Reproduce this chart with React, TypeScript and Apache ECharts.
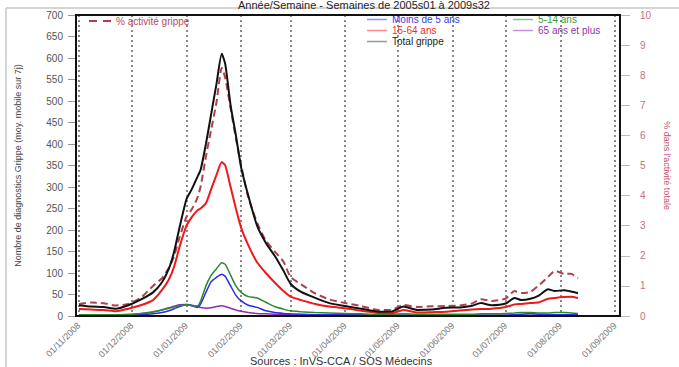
import React, { useEffect, useRef } from "react";
import * as echarts from "echarts";

const dates = [
  "2008-11-01", "2008-11-08", "2008-11-15", "2008-11-22", "2008-11-29",
  "2008-12-06", "2008-12-13", "2008-12-18", "2008-12-22", "2008-12-25",
  "2008-12-28", "2009-01-01", "2009-01-04", "2009-01-07", "2009-01-09",
  "2009-01-12", "2009-01-15", "2009-01-18", "2009-01-21", "2009-01-23",
  "2009-01-26", "2009-01-29", "2009-02-01", "2009-02-05", "2009-02-10",
  "2009-02-15", "2009-02-20", "2009-02-25", "2009-03-01", "2009-03-07",
  "2009-03-15", "2009-03-23", "2009-04-01", "2009-04-10", "2009-04-20",
  "2009-04-27", "2009-05-04", "2009-05-12", "2009-05-20", "2009-05-28",
  "2009-06-05", "2009-06-12", "2009-06-17", "2009-06-23", "2009-07-01",
  "2009-07-06", "2009-07-10", "2009-07-15", "2009-07-20", "2009-07-25",
  "2009-07-29", "2009-08-03", "2009-08-07", "2009-08-11",
];

const totalGrippe = [
  25, 22, 21, 17, 25, 38, 55, 78, 110, 150,
  205, 272, 295, 322, 340, 400, 470, 540, 610, 585,
  490, 420, 345, 280, 210, 170, 140, 105, 75, 56,
  42, 30, 23, 17, 10, 10, 22, 14, 15, 19,
  20, 24, 30, 25, 29, 42, 37, 40, 48, 62,
  58, 60, 57, 53,
];

const ans15_64 = [
  16, 15, 14, 11, 17, 25, 37, 60, 85, 115,
  160, 210, 230, 245, 250, 262, 295, 328, 358, 350,
  300, 250, 205, 165, 125, 100, 78, 58, 45, 37,
  28, 22, 18, 12, 7, 6, 14, 8, 9, 10,
  13, 15, 16, 17, 21, 27, 28, 30, 32, 40,
  42, 44, 45, 42,
];

const ans5_14 = [
  3, 3, 3, 3, 4, 6, 10, 14, 18, 21,
  24, 26, 24, 23, 35, 70, 95, 110, 124, 120,
  95, 70, 55, 45, 42, 32, 22, 16, 12, 10,
  8, 7, 6, 5, 4, 4, 5, 4, 4, 4,
  4, 4, 5, 5, 6, 7, 8, 8, 7, 7,
  8, 8, 7, 6,
];

const moins5 = [
  1, 1, 2, 2, 2, 3, 5, 8, 12, 17,
  22, 27, 24, 20, 28, 55, 80, 90, 97, 92,
  70, 48, 35, 25, 20, 12, 8, 6, 5, 4,
  3, 3, 3, 3, 2, 2, 2, 2, 2, 2,
  2, 2, 2, 2, 2, 3, 4, 6, 4, 3,
  3, 3, 3, 3,
];

const plus65 = [
  2, 2, 2, 2, 3, 5, 9, 14, 19, 23,
  26, 27, 25, 22, 20, 18, 19, 22, 24, 22,
  18, 14, 11, 8, 6, 5, 4, 3, 3, 2,
  2, 2, 2, 2, 2, 2, 2, 2, 2, 2,
  2, 2, 2, 2, 2, 2, 2, 2, 2, 2,
  2, 2, 2, 2,
];

const pctActivite = [
  0.4, 0.45, 0.42, 0.35, 0.4, 0.6, 1.0, 1.25, 1.6, 2.0,
  2.6, 3.3, 3.55, 3.9, 4.3, 5.3, 6.2, 7.1, 8.25, 7.9,
  6.9, 5.9, 5.0, 3.95, 3.1, 2.5, 2.15, 1.8, 1.3, 1.05,
  0.75, 0.55, 0.43, 0.33, 0.2, 0.2, 0.37, 0.3, 0.32, 0.33,
  0.35, 0.42, 0.56, 0.5, 0.58, 0.83, 0.76, 0.8, 1.03, 1.3,
  1.5, 1.4, 1.4, 1.26,
];

const leftTicks = { min: 0, max: 700, interval: 50 };
const rightTicks = { min: 0, max: 10, interval: 1 };

const FONT = "'Liberation Sans', Arial, sans-serif";
const DASH_ICON = "path://M0,0 H8 V2 H0 Z M14,0 H22 V2 H14 Z";

function toTime(s: string): number {
  const [y, m, d] = s.split("-").map(Number);
  return new Date(y, m - 1, d).getTime();
}

function pad(n: number) {
  return n < 10 ? "0" + n : "" + n;
}

export default function App() {
  const ref = useRef<HTMLDivElement>(null);

  useEffect(() => {
    if (!ref.current) return;
    const chart = echarts.init(ref.current, undefined, { renderer: "svg" });
    const t = dates.map(toTime);
    const mk = (vals: number[]) => t.map((x, i) => [x, vals[i]]);

    const lineSeries = (
      name: string,
      vals: number[],
      color: string,
      width: number,
      yAxisIndex = 0,
      type: any = "solid"
    ) => ({
      name,
      type: "line",
      yAxisIndex,
      data: mk(vals),
      showSymbol: false,
      symbol: "none",
      smooth: 0.2,
      lineStyle: { color, width, type },
      itemStyle: { color },
      z: 3,
    });

    const legendItem = (name: string, text: string, icon: string) => ({
      name,
      icon: "rect",
      itemStyle: { color: icon, borderWidth: 0 },
      lineStyle: { color: icon },
      textStyle: { color: text },
    });

    chart.setOption({
      animation: false,
      backgroundColor: "#ffffff",
      textStyle: { fontFamily: FONT },
      title: [
        {
          text: "Année/Semaine - Semaines de 2005s01 à 2009s32",
          left: 233,
          top: -6,
          textStyle: { fontSize: 11, fontWeight: "normal", color: "#222", fontFamily: FONT },
        },
        {
          text: "Sources : InVS-CCA / SOS Médecins",
          left: 245,
          top: 350,
          textStyle: { fontSize: 11, fontWeight: "normal", color: "#333", fontFamily: FONT },
        },
      ],
      graphic: [
        { type: "line", shape: { x1: 6, y1: 8, x2: 679, y2: 8 }, style: { stroke: "#d4d4d4", lineWidth: 2 } },
        { type: "line", shape: { x1: 6, y1: 8, x2: 6, y2: 367 }, style: { stroke: "#d4d4d4", lineWidth: 2 } },
      ],
      legend: [
        {
          data: [
            {
              name: "% activité grippe",
              icon: DASH_ICON,
              itemStyle: { color: "#b0404e" },
              textStyle: { color: "#b84a5c" },
            },
          ],
          left: 84,
          top: 11,
          itemWidth: 22,
          itemHeight: 2,
          itemGap: 4,
          textStyle: { fontSize: 10, fontFamily: FONT },
        },
        {
          orient: "vertical",
          data: [
            legendItem("Moins de 5 ans", "#3a3ae6", "#9090ff"),
            legendItem("15-64 ans", "#ee3030", "#ff8888"),
            legendItem("Total grippe", "#222", "#999999"),
          ],
          left: 362,
          top: 9,
          itemWidth: 20,
          itemHeight: 1.5,
          itemGap: 0,
          textStyle: { fontSize: 10, fontFamily: FONT, lineHeight: 11 },
        },
        {
          orient: "vertical",
          data: [
            legendItem("5-14 ans", "#3a9a3a", "#88c888"),
            legendItem("65 ans et plus", "#8a3aa6", "#c890dc"),
          ],
          left: 508,
          top: 9,
          itemWidth: 20,
          itemHeight: 1.5,
          itemGap: 0,
          textStyle: { fontSize: 10, fontFamily: FONT, lineHeight: 11 },
        },
      ],
      grid: {
        left: 76,
        right: 48,
        top: 15,
        bottom: 51,
        show: true,
        borderColor: "#111",
        borderWidth: 2,
        backgroundColor: "transparent",
        z: 10,
      },
      xAxis: {
        type: "time",
        min: new Date(2008, 9, 30, 8).getTime(),
        max: new Date(2009, 8, 3, 19).getTime(),
        splitNumber: 10,
        minInterval: 28 * 86400000,
        maxInterval: 31 * 86400000,
        axisLine: { show: false },
        axisTick: { show: false },
        axisLabel: {
          rotate: 45,
          fontSize: 9,
          color: "#777",
          margin: 8,
          showMinLabel: false,
          showMaxLabel: false,
          fontFamily: FONT,
          formatter: (v: number) => {
            const d = new Date(v);
            return pad(d.getDate()) + "/" + pad(d.getMonth() + 1) + "/" + d.getFullYear();
          },
        },
        splitLine: {
          show: true,
          lineStyle: { color: "#888", width: 2, type: [2, 3] },
        },
      },
      yAxis: [
        {
          type: "value",
          min: leftTicks.min,
          max: leftTicks.max,
          interval: leftTicks.interval,
          name: "Nombre de diagnostics Grippe (moy. mobile sur 7j)",
          nameLocation: "middle",
          nameGap: 54,
          nameTextStyle: { fontSize: 9, color: "#444", fontFamily: FONT },
          axisLine: { show: false },
          axisTick: { show: true, inside: false, length: 8, lineStyle: { color: "#999" } },
          axisLabel: { fontSize: 10, color: "#555", margin: 13, fontFamily: FONT },
          splitLine: { show: false },
        },
        {
          type: "value",
          position: "right",
          min: rightTicks.min,
          max: rightTicks.max,
          interval: rightTicks.interval,
          name: "% dans l'activité totale",
          nameLocation: "middle",
          nameGap: 40,
          nameRotate: -90,
          nameTextStyle: { fontSize: 9, color: "#c0506c", fontFamily: FONT },
          axisLine: { show: false },
          axisTick: { show: true, inside: false, length: 10, lineStyle: { color: "#bbb" } },
          axisLabel: { fontSize: 10, color: "#c47088", margin: 20, fontFamily: FONT },
          splitLine: { show: false },
        },
      ],
      series: [
        lineSeries("% activité grippe", pctActivite, "#b0404e", 2, 1, [7, 4]),
        lineSeries("65 ans et plus", plus65, "#8a30b0", 1.5),
        lineSeries("Moins de 5 ans", moins5, "#2a2af0", 1.5),
        lineSeries("5-14 ans", ans5_14, "#2a8a2a", 1.5),
        lineSeries("15-64 ans", ans15_64, "#f01818", 2),
        lineSeries("Total grippe", totalGrippe, "#111111", 2),
      ],
    });

    return () => chart.dispose();
  }, []);

  return (
    <div
      ref={ref}
      style={{ position: "fixed", left: 0, top: 0, width: 679, height: 367, background: "#fff" }}
    />
  );
}
